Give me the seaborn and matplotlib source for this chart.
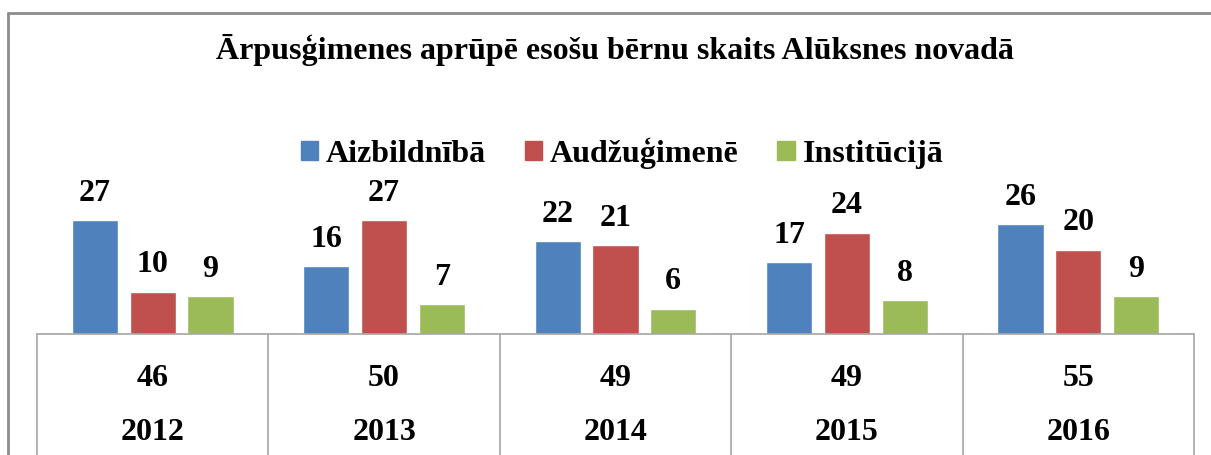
import matplotlib
matplotlib.use("Agg")

import matplotlib.pyplot as plt
import matplotlib.lines as mlines
import seaborn as sns
import pandas as pd

years = ["2012", "2013", "2014", "2015", "2016"]
aizbildniba = [27, 16, 22, 17, 26]
audzugimene = [10, 27, 21, 24, 20]
institucija = [9, 7, 6, 8, 9]
totals = [46, 50, 49, 49, 55]
series_names = ["Aizbildnībā", "Audžuģimenē", "Institūcijā"]
colors = ["#4F81BD", "#C0504D", "#9BBB59"]
title = "Ārpusģimenes aprūpē esošu bērnu skaits Alūksnes novadā"

rows = []
for name, vals in zip(series_names, [aizbildniba, audzugimene, institucija]):
    for y, v in zip(years, vals):
        rows.append({"year": y, "series": name, "value": v})
df = pd.DataFrame(rows)

sns.set_style("white")
plt.rcParams["font.family"] = ["Liberation Serif", "DejaVu Serif"]
plt.rcParams["text.color"] = "black"

W, H = 1211, 455
fig = plt.figure(figsize=(W / 100, H / 100), dpi=100)

# axes placed in pixel terms
left, right, base, top = 37, 1194, 334, 100
ax = fig.add_axes([left / W, (H - base) / H, (right - left) / W, (base - top) / H])

sns.barplot(data=df, x="year", y="value", hue="series", palette=colors,
            width=0.75, gap=0.2, saturation=1, ax=ax, legend=False)

px_per_unit = 4.22
ax.set_ylim(0, (base - top) / px_per_unit)
ax.set_xlim(-0.5, len(years) - 0.5)
ax.set_xticks([])
ax.set_yticks([])
ax.set_xlabel("")
ax.set_ylabel("")
for s in ax.spines.values():
    s.set_visible(False)

fs = 23

# value labels
for cont in ax.containers:
    ax.bar_label(cont, padding=9, fontsize=fs, fontweight="bold", color="black")

# table under the axis
line_col = "#A6A6A6"
tr = ax.get_xaxis_transform()
ax.plot([-0.5, len(years) - 0.5], [0, 0], color=line_col, lw=1.2, transform=tr, clip_on=False)
for i in range(len(years) + 1):
    ax.plot([i - 0.5, i - 0.5], [0, -0.6], color=line_col, lw=1.2, transform=tr, clip_on=False)
for i, (yr, tot) in enumerate(zip(years, totals)):
    ax.text(i, -44 / (base - top), str(tot), transform=tr, ha="center", va="center",
            fontsize=fs, fontweight="bold", color="black")
    ax.text(i, -98 / (base - top), yr, transform=tr, ha="center", va="center",
            fontsize=fs, fontweight="bold", color="black")

# title
fig.text(615 / W, 1 - 50 / H, title, ha="center", va="center", fontsize=fs,
         fontweight="bold", color="black")

# legend
handles = [plt.Rectangle((0, 0), 1, 1, color=c) for c in colors]
leg = fig.legend(handles, series_names, loc="center", bbox_to_anchor=(622 / W, 1 - 153 / H),
                 ncol=3, frameon=False, prop={"size": fs, "weight": "bold"},
                 handlelength=0.55, handleheight=0.55, handletextpad=0.25, columnspacing=1.2,
                 borderaxespad=0, borderpad=0)
for t in leg.get_texts():
    t.set_color("black")

# outer chart border (partially cropped)
bc = "#8C8C8C"
fig.add_artist(mlines.Line2D([8 / W, 8 / W], [1 - 13 / H, 0], color=bc, lw=2, transform=fig.transFigure))
fig.add_artist(mlines.Line2D([8 / W, 1], [1 - 13 / H, 1 - 13 / H], color=bc, lw=2, transform=fig.transFigure))

fig.savefig("out.png", dpi=100)
plt.close(fig)
